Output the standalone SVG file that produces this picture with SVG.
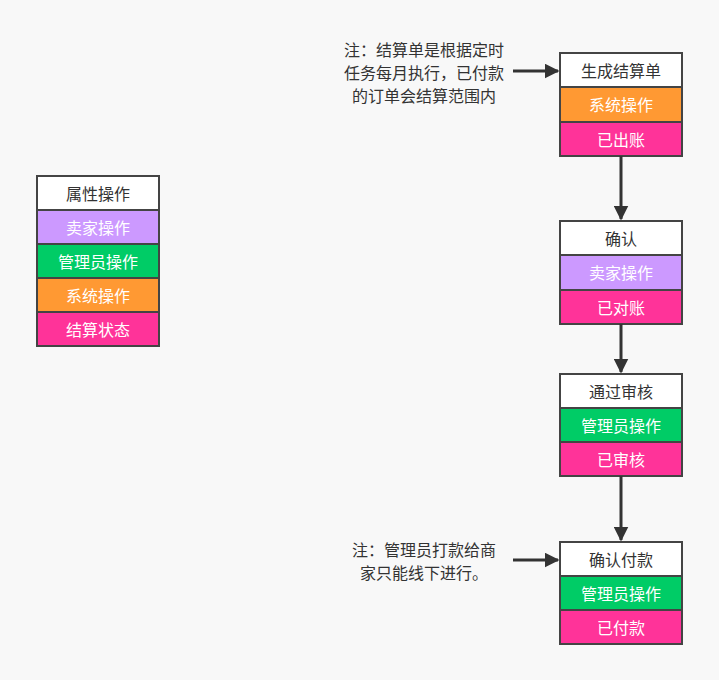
<svg xmlns="http://www.w3.org/2000/svg" width="719" height="680" viewBox="0 0 719 680">
<style>
text{font-family:"Noto Sans CJK SC","Noto Sans",sans-serif;font-size:16px;text-anchor:middle;dominant-baseline:central}
.b{stroke:#444;stroke-width:2}
.w{fill:#fff}.p{fill:#CC99FF}.g{fill:#00CC66}.o{fill:#FF9933}.k{fill:#FF3399}
.d{fill:#333}.l{fill:#fff}
.c{stroke:#333;stroke-width:3;fill:none}
</style>
<defs><marker id="a" viewBox="0 0 10 10" refX="9" refY="5" markerWidth="5" markerHeight="5" orient="auto" markerUnits="strokeWidth"><path d="M0,0L10,5L0,10z" fill="#333"/></marker></defs>
<rect width="719" height="680" fill="#f8f8f8"/>
<g id="legend">
<rect class="b w" x="37" y="176" width="122" height="34"/><text class="d" x="98" y="193">属性操作</text>
<rect class="b p" x="37" y="210" width="122" height="34"/><text class="l" x="98" y="227">卖家操作</text>
<rect class="b g" x="37" y="244" width="122" height="34"/><text class="l" x="98" y="261">管理员操作</text>
<rect class="b o" x="37" y="278" width="122" height="34"/><text class="l" x="98" y="295">系统操作</text>
<rect class="b k" x="37" y="312" width="122" height="34"/><text class="l" x="98" y="329">结算状态</text>
</g>
<g id="n1">
<rect class="b w" x="560" y="53" width="122" height="34"/><text class="d" x="621" y="70">生成结算单</text>
<rect class="b o" x="560" y="87" width="122" height="35"/><text class="l" x="621" y="104">系统操作</text>
<rect class="b k" x="560" y="122" width="122" height="34"/><text class="l" x="621" y="139">已出账</text>
</g>
<g id="n2">
<rect class="b w" x="560" y="221" width="122" height="34"/><text class="d" x="621" y="238">确认</text>
<rect class="b p" x="560" y="255" width="122" height="35"/><text class="l" x="621" y="272">卖家操作</text>
<rect class="b k" x="560" y="290" width="122" height="34"/><text class="l" x="621" y="307">已对账</text>
</g>
<g id="n3">
<rect class="b w" x="560" y="374" width="122" height="34"/><text class="d" x="621" y="391">通过审核</text>
<rect class="b g" x="560" y="408" width="122" height="34"/><text class="l" x="621" y="425">管理员操作</text>
<rect class="b k" x="560" y="442" width="122" height="34"/><text class="l" x="621" y="459">已审核</text>
</g>
<g id="n4">
<rect class="b w" x="560" y="542" width="122" height="34"/><text class="d" x="621" y="559">确认付款</text>
<rect class="b g" x="560" y="576" width="122" height="34"/><text class="l" x="621" y="593">管理员操作</text>
<rect class="b k" x="560" y="610" width="122" height="34"/><text class="l" x="621" y="627">已付款</text>
</g>
<g id="notes">
<text class="d" x="424" y="49">注：结算单是根据定时</text>
<text class="d" x="424" y="72">任务每月执行，已付款</text>
<text class="d" x="424" y="95">的订单会结算范围内</text>
<text class="d" x="424" y="549">注：管理员打款给商</text>
<text class="d" x="424" y="572">家只能线下进行。</text>
</g>
<g id="connectors">
<path class="c" d="M513,71H558" marker-end="url(#a)"/>
<path class="c" d="M621,156V219" marker-end="url(#a)"/>
<path class="c" d="M621,324V372" marker-end="url(#a)"/>
<path class="c" d="M621,476V540" marker-end="url(#a)"/>
<path class="c" d="M513,560H558" marker-end="url(#a)"/>
</g>
</svg>
